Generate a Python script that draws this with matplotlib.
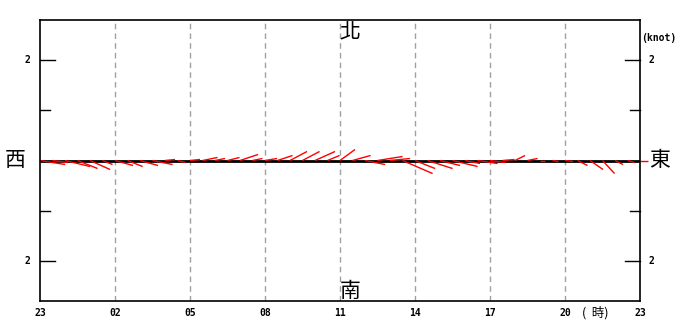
import numpy as np
import matplotlib
matplotlib.use('Agg')
import matplotlib.pyplot as plt

# ---------------------------------------------------------------------------
# Data: half-hourly wind vectors (knots), 23:00 -> 23:00 next day
# ---------------------------------------------------------------------------
hour_ticks  = [0, 3, 6, 9, 12, 15, 18, 21, 24]
hour_labels = ['23', '02', '05', '08', '11', '14', '17', '20', '23']

u_east = [0.50, 0.30, 0.50, 0.40, 0.40, 0.20, 0.36, 0.30, 0.36, 0.40,
          0.20, 0.16, 0.20, 0.30, 0.20, 0.24, 0.36, 0.20, 0.24, 0.30,
          0.34, 0.34, 0.40, 0.24, 0.30, 0.36, 0.40, 0.50, 0.40, 0.60,
          0.40, 0.50, 0.40, 0.50, 0.30, 0.40, 0.30, 0.24, 0.20, 0.20,
          0.10, 0.12, 0.16, 0.20, 0.26, 0.24, 0.16, 0.14, 0.16]
v_north = [-0.08, -0.04, -0.12, -0.16, -0.18, -0.08, -0.10, -0.12, -0.10, -0.08,
           0.02, -0.04, 0.02, 0.06, 0.04, 0.06, 0.12, 0.04, 0.04, 0.10,
           0.18, 0.18, 0.18, 0.10, 0.22, 0.10, -0.08, 0.08, 0.04, -0.26,
           -0.16, -0.16, -0.10, -0.12, -0.06, -0.06, -0.04, 0.02, 0.10, 0.04,
           0.00, -0.02, -0.02, -0.10, -0.18, -0.26, -0.08, -0.04, 0.00]

times = np.arange(len(u_east)) * 0.5

CJK = ['Noto Sans CJK TC', 'DejaVu Sans']
MONO = dict(family='DejaVu Sans Mono', fontweight='bold', fontsize=7)

W, H = 680, 322
fig = plt.figure(figsize=(W / 100, H / 100), dpi=100)
ax = fig.add_axes([40 / W, (H - 301) / H, 600 / W, 281 / H])

YMAX = 2.8
ax.set_xlim(0, 24)
ax.set_ylim(-YMAX, YMAX)

# horizontal hours per knot so sticks keep true direction
px_per_hour = 600 / 24
px_per_knot = 281 / (2 * YMAX)
k = px_per_knot / px_per_hour

# grid
for t in hour_ticks[1:-1]:
    ax.axvline(t, color='#a0a0a0', lw=1, ls=(0, (4, 3)), zorder=0)

# baseline
ax.plot([0, 24], [0, 0], color='black', lw=2, zorder=1, solid_capstyle='butt')

# sticks
for t, u, v in zip(times, u_east, v_north):
    ax.plot([t, t + u * k], [0, v], color='red', lw=1, zorder=2, clip_on=False,
            solid_capstyle='butt')

# axis styling
for s in ax.spines.values():
    s.set_linewidth(1.2)
ax.set_xticks([])
ax.set_yticks([])

# y ticks on both sides, pointing inward (major 15px, minor 10px)
for yv, tpx in [(-2, 15), (-1, 10), (1, 10), (2, 15)]:
    tl = tpx / px_per_hour
    ax.plot([0, tl], [yv, yv], color='black', lw=1, clip_on=False)
    ax.plot([24 - tl, 24], [yv, yv], color='black', lw=1, clip_on=False)
for yv in [-2, 2]:
    ax.text(-0.52, yv, '2', ha='center', va='center', **MONO)
    ax.text(24.45, yv, '2', ha='center', va='center', **MONO)

# x labels
for t, lab in zip(hour_ticks, hour_labels):
    ax.text(t, -YMAX - 0.24, lab, ha='center', va='center', **MONO)
ax.text(22.2, -YMAX - 0.24, '(  時)', ha='center', va='center',
        family=CJK, fontsize=9)

# compass directions
ax.text(12.4, 2.55, '北', ha='center', va='center', family=CJK, fontsize=15)
ax.text(12.4, -2.6, '南', ha='center', va='center', family=CJK, fontsize=15)
ax.text(-1.0, 0, '西', ha='center', va='center', family=CJK, fontsize=15)
ax.text(24.8, 0, '東', ha='center', va='center', family=CJK, fontsize=15)
ax.text(24.05, 2.45, '(knot)', ha='left', va='center', **MONO)

fig.savefig('out.png', dpi=100)
